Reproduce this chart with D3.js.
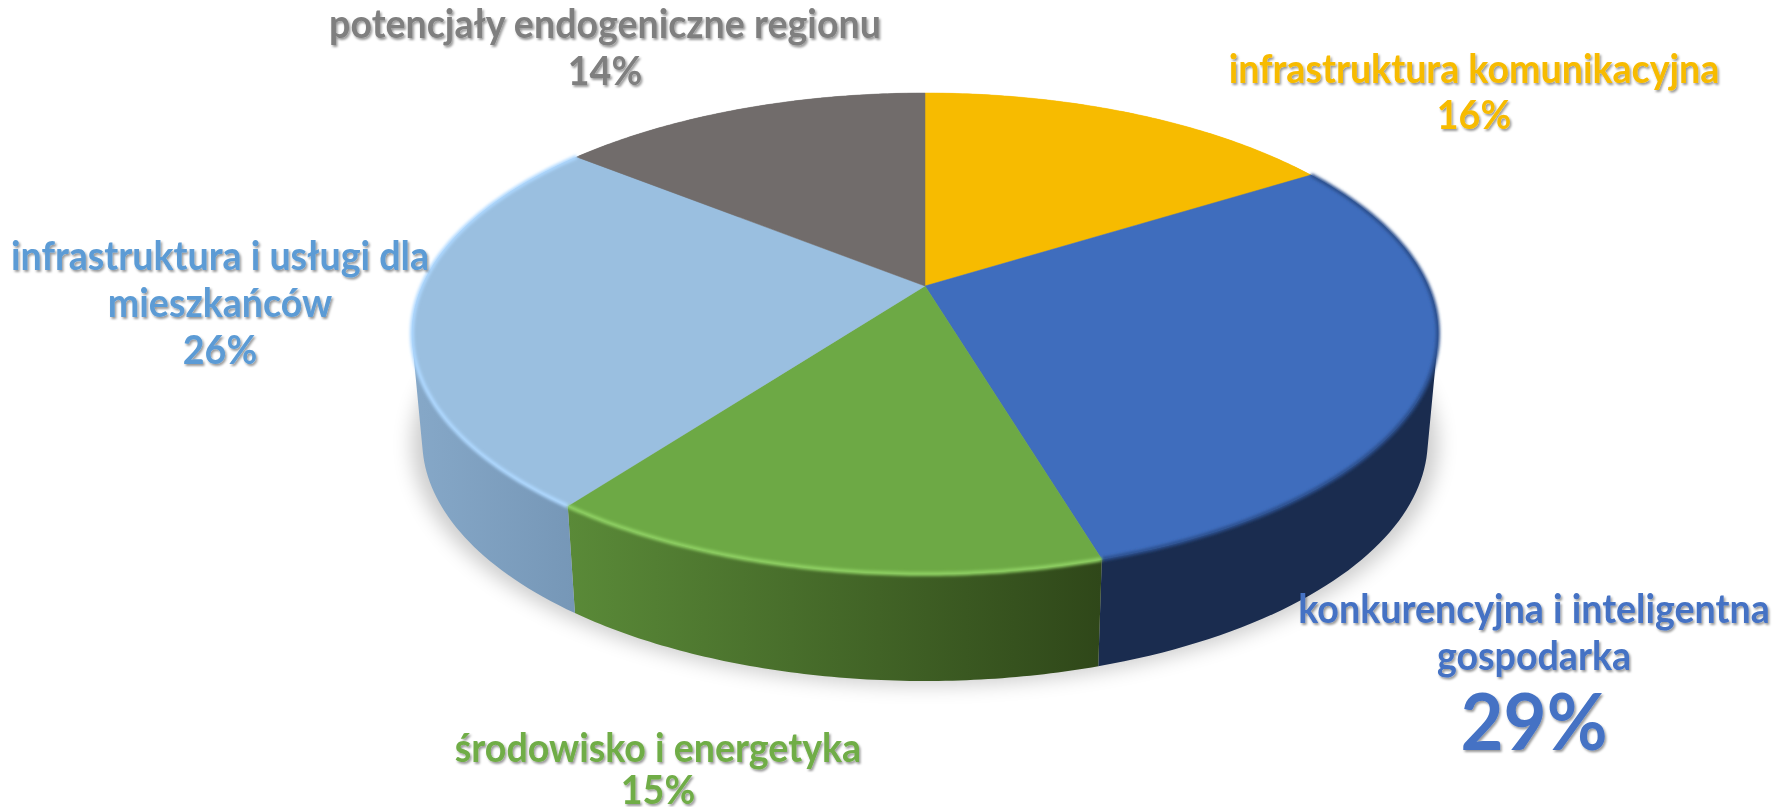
<!DOCTYPE html>
<html>
<head>
<meta charset="utf-8">
<script src="https://cdn.jsdelivr.net/npm/d3@7"></script>
<style>
  html, body { margin: 0; padding: 0; background: #fff; overflow: hidden; }
  text { font-family: Lato, sans-serif; font-weight: 700; text-anchor: middle; }
</style>
</head>
<body>
<svg id="chart" width="1775" height="807"></svg>
<script>
const categories = [
  ["infrastruktura komunikacyjna"],
  ["konkurencyjna i inteligentna", "gospodarka"],
  ["środowisko i energetyka"],
  ["infrastruktura i usługi dla", "mieszkańców"],
  ["potencjały endogeniczne regionu"],
];
// slice sizes as measured on the picture, the labels show them rounded
const values = [16.1, 29.3, 14.8, 25.6, 14.2];

const topColors = ["#f7bb00", "#3f6dbd", "#6da945", "#9abfe0", "#716c6b"];
const labelColors = ["#f7bb00", "#4472c4", "#70ad47", "#5b9bd5", "#7f7f7f"];
const wallFrom = ["#f7bb00", "#1a2c4f", "#5a8a38", "#86a8c8", "#716c6b"];
const wallTo = ["#f7bb00", "#1a2c4f", "#2f4719", "#7596b6", "#716c6b"];
const rimColors = [null, "#2c4f8e", "#8fd163", "#aed8ff", null];

// centre x, first baseline, line step
const labelPos = [
  [1474, 83, 46],
  [1534, 623, 47],
  [658, 762, 42],
  [220, 270, 47],
  [605, 38, 47],
];

// pie plate seen in perspective: unit circle -> screen
const cx = 925, apexY = 286, farY = 93, nearY = 574;
const depth = 107, bottomScale = 0.98;
const c = (2 * apexY - nearY - farY) / (nearY - farY);
const a = nearY * (1 + c) - apexY;
const halfWidth = 513 * Math.sqrt(1 - c * c);

const project = (angle) => {
  const u = Math.sin(angle), v = -Math.cos(angle);
  const w = 1 + c * v;
  return [cx + (halfWidth * u) / w, (a * v + apexY) / w];
};
const projectBottom = (angle) => {
  const p = project(angle);
  return [cx + (p[0] - cx) * bottomScale, p[1] + depth];
};

const arcAngles = (d) =>
  d3.range(0, 81).map((i) => d.startAngle + ((d.endAngle - d.startAngle) * i) / 80);

const line = d3.line();
const svg = d3.select("#chart");
const defs = svg.append("defs");

defs.append("filter").attr("id", "floor")
  .attr("x", "-20%").attr("y", "-20%").attr("width", "140%").attr("height", "140%")
  .append("feGaussianBlur").attr("stdDeviation", 10);
defs.append("filter").attr("id", "rimBlur")
  .attr("x", "-10%").attr("y", "-10%").attr("width", "120%").attr("height", "120%")
  .append("feGaussianBlur").attr("stdDeviation", 1.5);
defs.append("filter").attr("id", "textShadow")
  .attr("x", "-10%").attr("y", "-20%").attr("width", "120%").attr("height", "150%")
  .append("feDropShadow")
  .attr("dx", 1.5).attr("dy", 2).attr("stdDeviation", 1.2)
  .attr("flood-color", "#000").attr("flood-opacity", 0.4);

const slices = d3.pie().sort(null).value((d) => d)(values);

// soft shadow on the floor
const full = d3.range(0, 181).map((i) => (i / 180) * 2 * Math.PI);
svg.append("path")
  .attr("d", line(full.map(projectBottom).map((p) => [cx + (p[0] - cx) * 1.02, p[1] + 4])) + "Z")
  .attr("fill", "#000").attr("opacity", 0.2).attr("filter", "url(#floor)");

// one wall strip per arc step, all wound the same way so they fill as one shape
const wallStrip = ([s, e]) => {
  const quad = [project(s), project(e), projectBottom(e), projectBottom(s)];
  if (d3.polygonArea(quad) < 0) quad.reverse();
  return line(quad) + "Z";
};

const walls = svg.append("g");
slices.forEach((d, i) => {
  const angles = arcAngles(d);
  const xs = angles.map(project).concat(angles.map(projectBottom)).map((p) => p[0]);
  const grad = defs.append("linearGradient")
    .attr("id", `wall-${i}`).attr("gradientUnits", "userSpaceOnUse")
    .attr("x1", d3.min(xs)).attr("x2", d3.max(xs)).attr("y1", 0).attr("y2", 0);
  grad.append("stop").attr("offset", 0).attr("stop-color", wallFrom[i]);
  grad.append("stop").attr("offset", 1).attr("stop-color", wallTo[i]);
  walls.append("path")
    .attr("d", d3.pairs(angles).map(wallStrip).join(""))
    .attr("fill", `url(#wall-${i})`);
});

// top faces
const faces = svg.append("g");
slices.forEach((d, i) => {
  const pts = [[cx, apexY]].concat(arcAngles(d).map(project));
  faces.append("path")
    .attr("d", line(pts) + "Z")
    .attr("fill", topColors[i])
    .attr("stroke", topColors[i]).attr("stroke-width", 0.5);
});

// bright rim on the front edge
slices.forEach((d, i) => {
  if (!rimColors[i]) return;
  svg.append("path")
    .attr("d", line(arcAngles(d).map(project)))
    .attr("fill", "none")
    .attr("stroke", rimColors[i]).attr("stroke-width", 4)
    .attr("filter", "url(#rimBlur)");
});

// labels
const labels = svg.append("g").attr("filter", "url(#textShadow)");
const squeeze = 0.94;
categories.forEach((lines, i) => {
  const [x, y, step] = labelPos[i];
  const g = labels.append("g")
    .attr("transform", `translate(${x},0) scale(${squeeze},1)`)
    .attr("fill", labelColors[i]);
  lines.forEach((t, j) => {
    g.append("text").attr("y", y + j * step).attr("font-size", 40).text(t);
  });
  const big = values[i] === d3.max(values);
  g.append("text")
    .attr("y", big ? y + lines.length * step + 33 : y + lines.length * step)
    .attr("font-size", big ? 79 : 40)
    .text(`${Math.round(values[i])}%`);
});
</script>
</body>
</html>
